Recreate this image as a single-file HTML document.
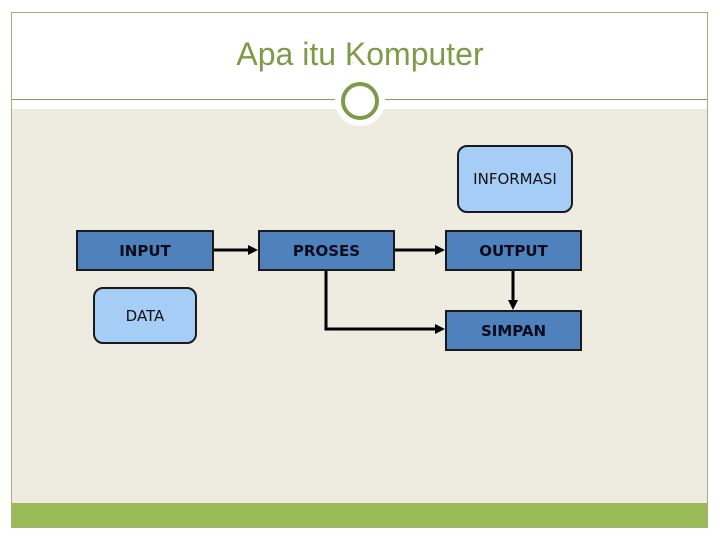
<!DOCTYPE html>
<html><head><style>
body{margin:0;width:720px;height:540px;background:#fff;position:relative;overflow:hidden;font-family:"DejaVu Sans","Liberation Sans",sans-serif}
.a{position:absolute;box-sizing:border-box}
.b{background:#4f81bd;border:2px solid #1a1a1a;font-weight:bold;font-size:15px;color:#0a0a1a;display:flex;align-items:center;justify-content:center}
.r{background:#a6cdf5;border:2px solid #1a1a1a;border-radius:10px;font-size:15px;color:#111;display:flex;justify-content:center}
</style></head><body>
<div class="a" style="left:11px;top:12px;width:697px;height:516px;border:1px solid #a4b07a;background:#eeebe1"></div>
<div class="a" style="left:12px;top:13px;width:695px;height:96px;background:#fff"></div>
<div class="a" style="left:12px;top:99px;width:695px;height:1px;background:#8c9a5a"></div>
<div class="a" style="left:12px;top:503px;width:695px;height:24px;background:#9bbb59"></div>
<div class="a" style="left:0;top:36px;width:720px;text-align:center;font-family:'Liberation Sans',sans-serif;font-size:32px;color:#7f9a48">Apa itu Komputer</div>
<div class="a" style="left:335px;top:76px;width:50px;height:50px;border-radius:50%;background:#fff"></div>
<div class="a" style="left:341px;top:82px;width:38px;height:38px;border-radius:50%;border:4px solid #7f9a48;background:#fff"></div>
<div class="a r" style="left:457px;top:145px;width:116px;height:68px;align-items:center">INFORMASI</div>
<div class="a r" style="left:93px;top:287px;width:104px;height:57px;padding-top:18px">DATA</div>
<div class="a b" style="left:76px;top:230px;width:138px;height:41px">INPUT</div>
<div class="a b" style="left:258px;top:230px;width:137px;height:41px">PROSES</div>
<div class="a b" style="left:445px;top:230px;width:137px;height:41px">OUTPUT</div>
<div class="a b" style="left:445px;top:310px;width:137px;height:41px">SIMPAN</div>
<svg class="a" style="left:0;top:0" width="720" height="540">
<g stroke="#000" stroke-width="3" fill="none">
<line x1="214" y1="250" x2="250" y2="250"/>
<line x1="395" y1="250" x2="437" y2="250"/>
<polyline points="326,271 326,329 437,329"/>
<line x1="513" y1="271" x2="513" y2="302"/>
</g>
<g fill="#000">
<polygon points="258,250 248,245 248,255"/>
<polygon points="445,250 435,245 435,255"/>
<polygon points="445,329 435,324 435,334"/>
<polygon points="513,310 508,300 518,300"/>
</g>
</svg>
</body></html>
